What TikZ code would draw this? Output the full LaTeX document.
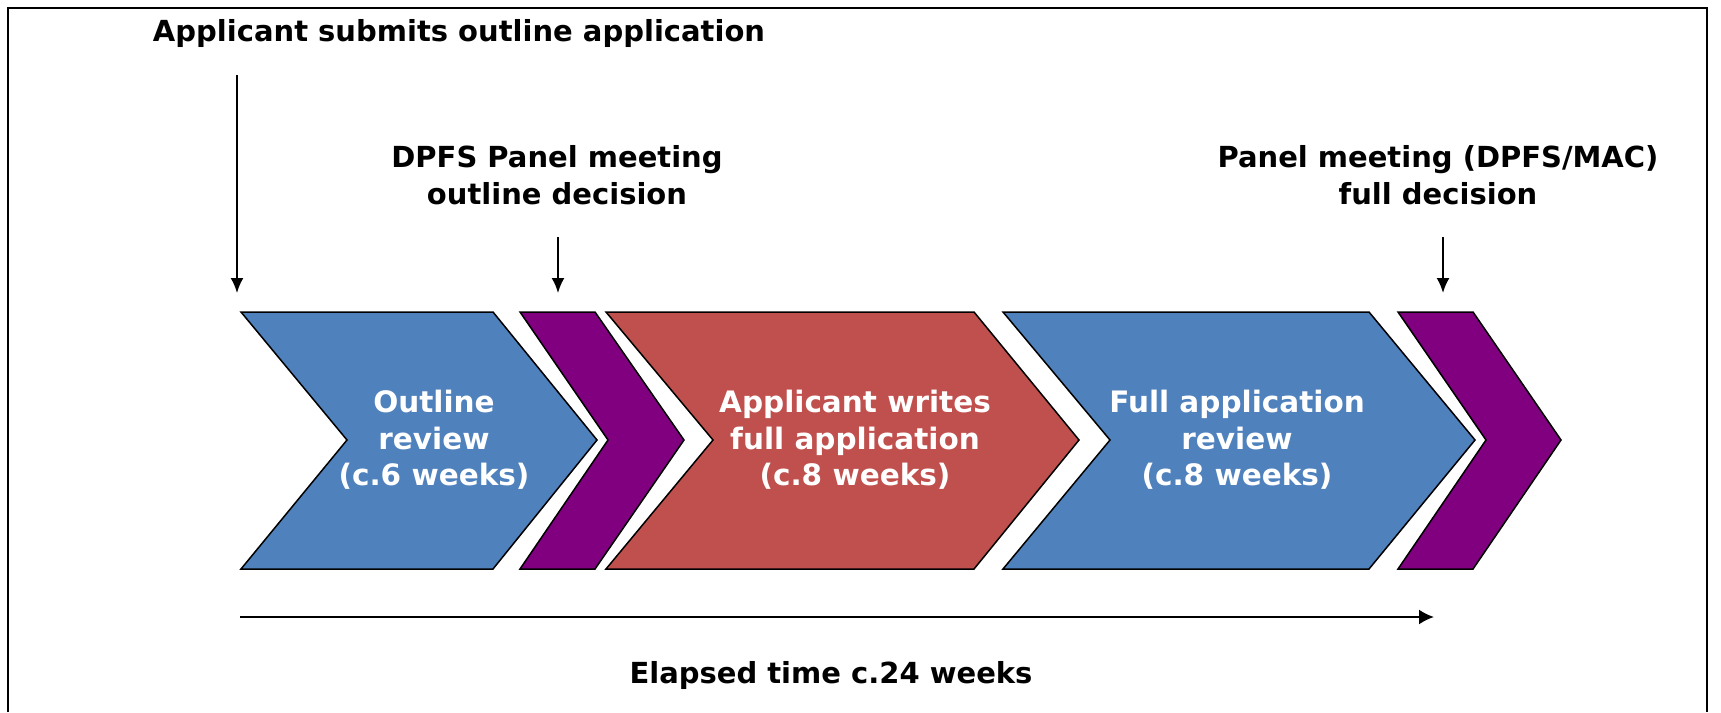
\documentclass[tikz,border=0pt]{standalone}
\usepackage{fontspec}
\setmainfont{DejaVu Sans}
\usetikzlibrary{arrows.meta}
\definecolor{cblue}{HTML}{4F81BD}
\definecolor{cred}{HTML}{C0504D}
\definecolor{cpurple}{HTML}{800080}
\tikzset{
  chev/.style={draw=black, line width=1.5pt, line join=miter},
  boxtext/.style={text=white, font=\bfseries\fontsize{29.5}{36.5}\selectfont, align=center},
  label/.style={text=black, font=\bfseries\fontsize{29}{37}\selectfont, align=center},
  pointer/.style={line width=2pt, -{Latex[length=15pt,width=13pt]}}
}
\newcommand{\chevron}[5]{%
  \fill[#5] (#1,312) -- (#3,312) -- (#4,440) -- (#3,569) -- (#1,569) -- (#2,440) -- cycle;
  \draw[chev] (#1,312) -- (#3,312) -- (#4,440) -- (#3,569) -- (#1,569) -- (#2,440) -- cycle;}
\begin{document}
\begin{tikzpicture}[x=1pt,y=-1pt]
\useasboundingbox (0,0) rectangle (1721,712);
\fill[white] (0,0) rectangle (1721,712);
% frame
\draw[line width=2pt] (8,712) -- (8,8) -- (1707,8) -- (1707,712);
% chevrons
\chevron{241}{347}{493}{597}{cblue}
\chevron{520}{608}{595}{684}{cpurple}
\chevron{606}{713}{974}{1079}{cred}
\chevron{1003}{1110}{1369}{1475}{cblue}
\chevron{1398}{1486}{1473}{1561}{cpurple}
% box texts
\node[boxtext] (outline) at (434,440) {Outline\\review\\(c.6 weeks)};
\node[boxtext] (writes) at (855,440) {Applicant writes\\full application\\(c.8 weeks)};
\node[boxtext] (fullrev) at (1237,440) {Full application\\review\\(c.8 weeks)};
% labels
\node[label] (submit) at (459,33) {Applicant submits outline application};
\node[label] (dpfs) at (557,175) {DPFS Panel meeting\\outline decision};
\node[label] (panel) at (1438,175) {Panel meeting (DPFS/MAC)\\full decision};
\node[label] (elapsed) at (831,675) {Elapsed time c.24 weeks};
% arrow coordinates
\coordinate (a1s) at (237,75);
\coordinate (a1e) at (237,293);
\coordinate (a2s) at (558,237);
\coordinate (a2e) at (558,293);
\coordinate (a3s) at (1443,237);
\coordinate (a3e) at (1443,293);
\coordinate (ts) at (240,617);
\coordinate (te) at (1434,617);
\draw[pointer] (a1s) -- (a1e);
\draw[pointer] (a2s) -- (a2e);
\draw[pointer] (a3s) -- (a3e);
\draw[line width=2pt, -{Latex[length=15pt,width=15pt]}] (ts) -- (te);
\end{tikzpicture}
\end{document}
